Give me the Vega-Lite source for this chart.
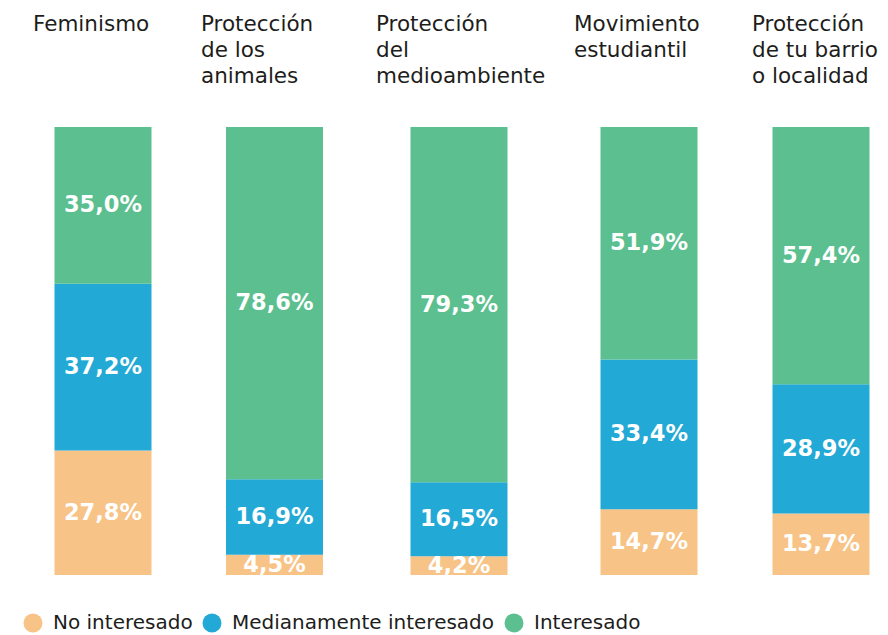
{
  "$schema": "https://vega.github.io/schema/vega-lite/v6.json",
  "padding": {"left": 23, "top": 13, "right": 0, "bottom": 5},
  "background": "white",
  "datasets": {
    "encuesta": [
      {"tema": "Feminismo", "categoria": "No interesado", "valor": 0.278},
      {"tema": "Feminismo", "categoria": "Medianamente interesado", "valor": 0.372},
      {"tema": "Feminismo", "categoria": "Interesado", "valor": 0.350},
      {"tema": "Animales", "categoria": "No interesado", "valor": 0.045},
      {"tema": "Animales", "categoria": "Medianamente interesado", "valor": 0.169},
      {"tema": "Animales", "categoria": "Interesado", "valor": 0.786},
      {"tema": "Medioambiente", "categoria": "No interesado", "valor": 0.042},
      {"tema": "Medioambiente", "categoria": "Medianamente interesado", "valor": 0.165},
      {"tema": "Medioambiente", "categoria": "Interesado", "valor": 0.793},
      {"tema": "Estudiantil", "categoria": "No interesado", "valor": 0.147},
      {"tema": "Estudiantil", "categoria": "Medianamente interesado", "valor": 0.334},
      {"tema": "Estudiantil", "categoria": "Interesado", "valor": 0.519},
      {"tema": "Barrio", "categoria": "No interesado", "valor": 0.137},
      {"tema": "Barrio", "categoria": "Medianamente interesado", "valor": 0.289},
      {"tema": "Barrio", "categoria": "Interesado", "valor": 0.574}
    ]
  },
  "data": {"name": "encuesta"},
  "spacing": 28,
  "hconcat": [
    {
      "width": 140, "height": 448,
      "title": {"text": ["Feminismo", "", ""]},
      "transform": [
        {"filter": "datum.tema === 'Feminismo'"},
        {"stack": "valor", "groupby": ["tema"], "sort": [{"field": "categoria", "order": "descending"}], "as": ["y0", "y1"]},
        {"calculate": "(datum.y0 + datum.y1) / 2", "as": "ymid"}
      ],
      "layer": [
        {"mark": {"type": "bar", "width": 97}, "encoding": {
          "x": {"field": "tema", "type": "nominal", "axis": null, "scale": {"paddingInner": 0, "paddingOuter": 0}},
          "y": {"field": "y0", "type": "quantitative", "axis": null, "scale": {"domain": [0, 1], "nice": false}},
          "y2": {"field": "y1"},
          "color": {"field": "categoria", "type": "nominal", "scale": {"domain": ["No interesado", "Medianamente interesado", "Interesado"], "range": ["#F8C386", "#23A9D5", "#5BBF8F"]}, "legend": {"title": null}}
        }},
        {"mark": {"type": "text", "font": "DejaVu Sans", "fontWeight": "bold", "fontSize": 22.5, "color": "white", "baseline": "middle"}, "encoding": {
          "x": {"field": "tema", "type": "nominal", "axis": null},
          "y": {"field": "ymid", "type": "quantitative", "axis": null},
          "text": {"field": "valor", "type": "quantitative", "format": ".1%"}
        }}
      ]
    },
    {
      "width": 147, "height": 448,
      "title": {"text": ["Protección", "de los", "animales"]},
      "transform": [
        {"filter": "datum.tema === 'Animales'"},
        {"stack": "valor", "groupby": ["tema"], "sort": [{"field": "categoria", "order": "descending"}], "as": ["y0", "y1"]},
        {"calculate": "(datum.y0 + datum.y1) / 2", "as": "ymid"}
      ],
      "layer": [
        {"mark": {"type": "bar", "width": 97}, "encoding": {
          "x": {"field": "tema", "type": "nominal", "axis": null, "scale": {"paddingInner": 0, "paddingOuter": 0}},
          "y": {"field": "y0", "type": "quantitative", "axis": null, "scale": {"domain": [0, 1], "nice": false}},
          "y2": {"field": "y1"},
          "color": {"field": "categoria", "type": "nominal", "scale": {"domain": ["No interesado", "Medianamente interesado", "Interesado"], "range": ["#F8C386", "#23A9D5", "#5BBF8F"]}, "legend": {"title": null}}
        }},
        {"mark": {"type": "text", "font": "DejaVu Sans", "fontWeight": "bold", "fontSize": 22.5, "color": "white", "baseline": "middle"}, "encoding": {
          "x": {"field": "tema", "type": "nominal", "axis": null},
          "y": {"field": "ymid", "type": "quantitative", "axis": null},
          "text": {"field": "valor", "type": "quantitative", "format": ".1%"}
        }}
      ]
    },
    {
      "width": 166, "height": 448,
      "title": {"text": ["Protección", "del", "medioambiente"]},
      "transform": [
        {"filter": "datum.tema === 'Medioambiente'"},
        {"stack": "valor", "groupby": ["tema"], "sort": [{"field": "categoria", "order": "descending"}], "as": ["y0", "y1"]},
        {"calculate": "(datum.y0 + datum.y1) / 2", "as": "ymid"}
      ],
      "layer": [
        {"mark": {"type": "bar", "width": 97}, "encoding": {
          "x": {"field": "tema", "type": "nominal", "axis": null, "scale": {"paddingInner": 0, "paddingOuter": 0}},
          "y": {"field": "y0", "type": "quantitative", "axis": null, "scale": {"domain": [0, 1], "nice": false}},
          "y2": {"field": "y1"},
          "color": {"field": "categoria", "type": "nominal", "scale": {"domain": ["No interesado", "Medianamente interesado", "Interesado"], "range": ["#F8C386", "#23A9D5", "#5BBF8F"]}, "legend": {"title": null}}
        }},
        {"mark": {"type": "text", "font": "DejaVu Sans", "fontWeight": "bold", "fontSize": 22.5, "color": "white", "baseline": "middle"}, "encoding": {
          "x": {"field": "tema", "type": "nominal", "axis": null},
          "y": {"field": "ymid", "type": "quantitative", "axis": null},
          "text": {"field": "valor", "type": "quantitative", "format": ".1%"}
        }}
      ]
    },
    {
      "width": 150, "height": 448,
      "title": {"text": ["Movimiento", "estudiantil", ""]},
      "transform": [
        {"filter": "datum.tema === 'Estudiantil'"},
        {"stack": "valor", "groupby": ["tema"], "sort": [{"field": "categoria", "order": "descending"}], "as": ["y0", "y1"]},
        {"calculate": "(datum.y0 + datum.y1) / 2", "as": "ymid"}
      ],
      "layer": [
        {"mark": {"type": "bar", "width": 97}, "encoding": {
          "x": {"field": "tema", "type": "nominal", "axis": null, "scale": {"paddingInner": 0, "paddingOuter": 0}},
          "y": {"field": "y0", "type": "quantitative", "axis": null, "scale": {"domain": [0, 1], "nice": false}},
          "y2": {"field": "y1"},
          "color": {"field": "categoria", "type": "nominal", "scale": {"domain": ["No interesado", "Medianamente interesado", "Interesado"], "range": ["#F8C386", "#23A9D5", "#5BBF8F"]}, "legend": {"title": null}}
        }},
        {"mark": {"type": "text", "font": "DejaVu Sans", "fontWeight": "bold", "fontSize": 22.5, "color": "white", "baseline": "middle"}, "encoding": {
          "x": {"field": "tema", "type": "nominal", "axis": null},
          "y": {"field": "ymid", "type": "quantitative", "axis": null},
          "text": {"field": "valor", "type": "quantitative", "format": ".1%"}
        }}
      ]
    },
    {
      "width": 138, "height": 448,
      "title": {"text": ["Protección", "de tu barrio", "o localidad"]},
      "transform": [
        {"filter": "datum.tema === 'Barrio'"},
        {"stack": "valor", "groupby": ["tema"], "sort": [{"field": "categoria", "order": "descending"}], "as": ["y0", "y1"]},
        {"calculate": "(datum.y0 + datum.y1) / 2", "as": "ymid"}
      ],
      "layer": [
        {"mark": {"type": "bar", "width": 97}, "encoding": {
          "x": {"field": "tema", "type": "nominal", "axis": null, "scale": {"paddingInner": 0, "paddingOuter": 0}},
          "y": {"field": "y0", "type": "quantitative", "axis": null, "scale": {"domain": [0, 1], "nice": false}},
          "y2": {"field": "y1"},
          "color": {"field": "categoria", "type": "nominal", "scale": {"domain": ["No interesado", "Medianamente interesado", "Interesado"], "range": ["#F8C386", "#23A9D5", "#5BBF8F"]}, "legend": {"title": null}}
        }},
        {"mark": {"type": "text", "font": "DejaVu Sans", "fontWeight": "bold", "fontSize": 22.5, "color": "white", "baseline": "middle"}, "encoding": {
          "x": {"field": "tema", "type": "nominal", "axis": null},
          "y": {"field": "ymid", "type": "quantitative", "axis": null},
          "text": {"field": "valor", "type": "quantitative", "format": ".1%"}
        }}
      ]
    }
  ],
  "resolve": {"legend": {"color": "shared"}},
  "config": {
    "locale": {"number": {"decimal": ",", "thousands": ".", "grouping": [3], "currency": ["", " €"]}},
    "view": {"stroke": null},
    "title": {"anchor": "start", "orient": "top", "baseline": "bottom", "offset": 40, "lineHeight": 26, "font": "DejaVu Sans", "fontSize": 21.5, "fontWeight": "normal", "color": "#1d1d1b"},
    "legend": {"orient": "none", "legendX": -10, "legendY": 486, "direction": "horizontal", "symbolType": "circle", "symbolSize": 360, "symbolStrokeWidth": 0, "symbolOpacity": 1, "labelFont": "DejaVu Sans", "labelFontSize": 20, "labelColor": "#1d1d1b", "labelOffset": 10, "columnPadding": 9, "labelLimit": 400}
  }
}
